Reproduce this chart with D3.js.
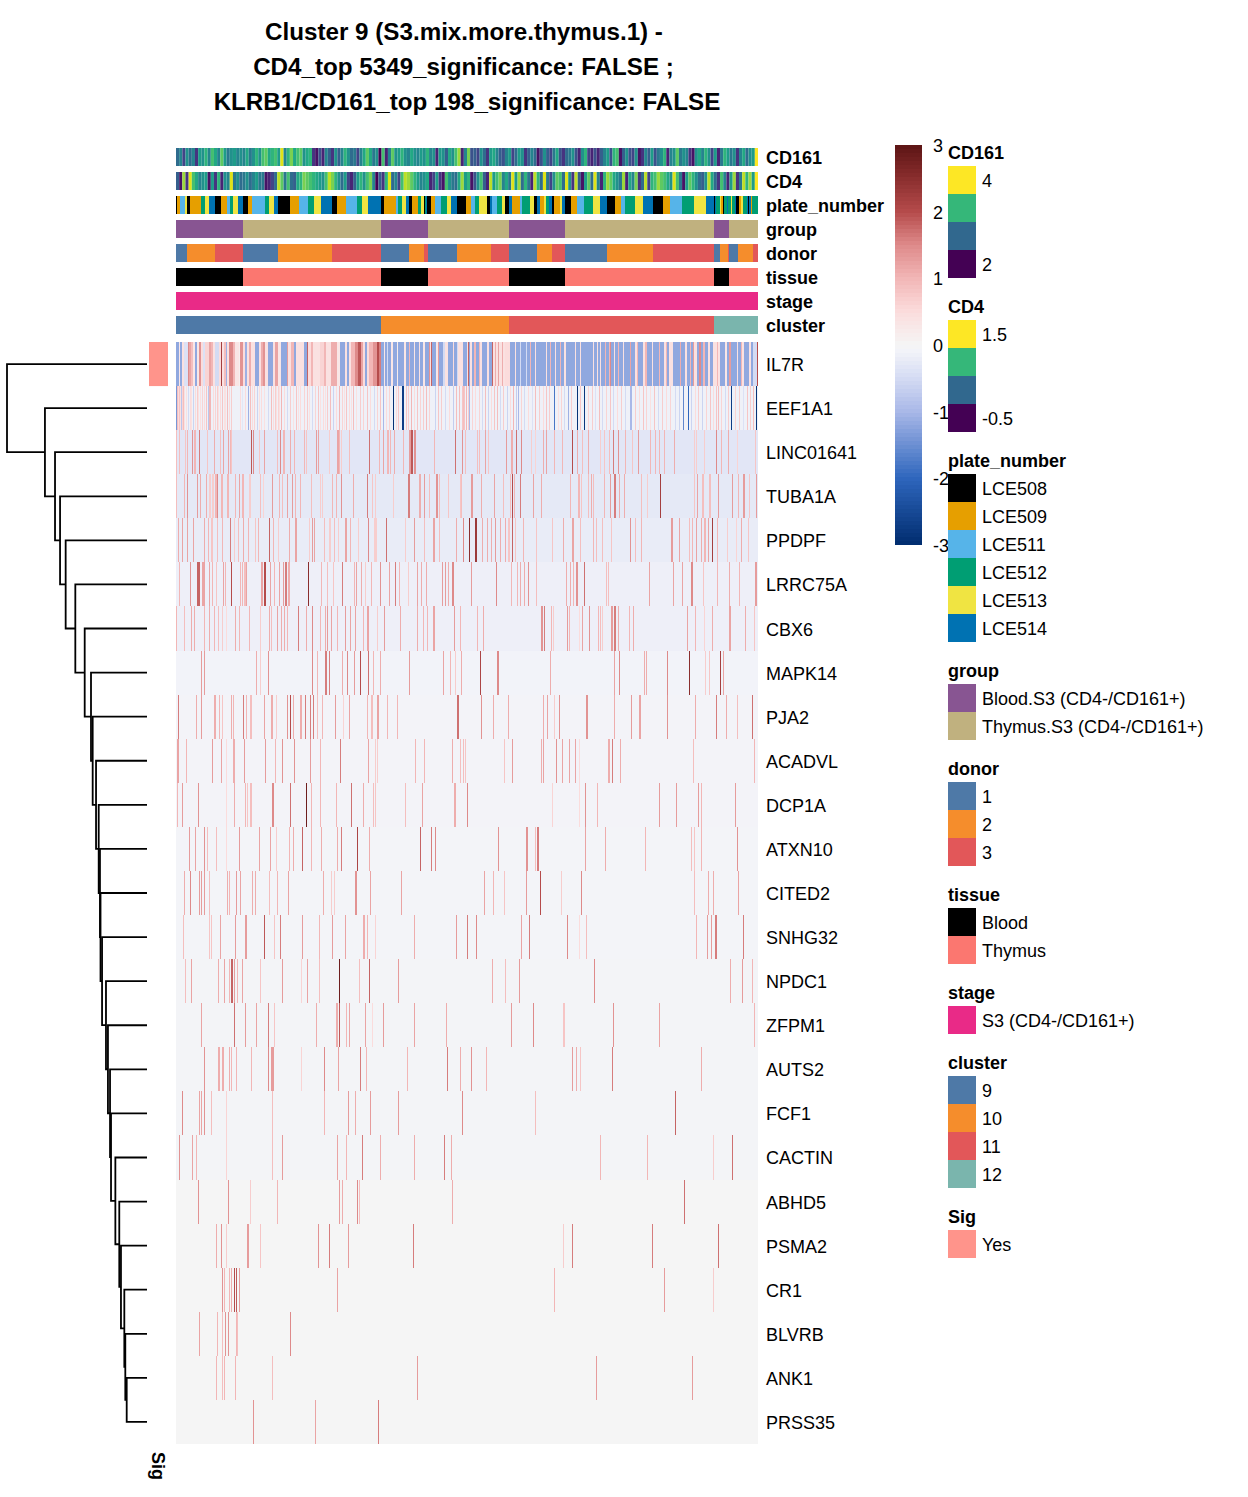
<!DOCTYPE html>
<html>
<head>
<meta charset="utf-8">
<script src="https://cdnjs.cloudflare.com/ajax/libs/d3/7.8.5/d3.min.js"></script>
<style>
body { margin: 0; background: #fff; }
text { font-family: "Liberation Sans", Arial, sans-serif; fill: #000; }
</style>
</head>
<body>
<svg id="chart" width="1248" height="1497"></svg>
<script>
// ---- data ----
var titleLines = ["Cluster 9 (S3.mix.more.thymus.1) -", "CD4_top 5349_significance: FALSE ;", "KLRB1/CD161_top 198_significance: FALSE"];
var genes = ["IL7R","EEF1A1","LINC01641","TUBA1A","PPDPF","LRRC75A","CBX6","MAPK14","PJA2","ACADVL","DCP1A","ATXN10","CITED2","SNHG32","NPDC1","ZFPM1","AUTS2","FCF1","CACTIN","ABHD5","PSMA2","CR1","BLVRB","ANK1","PRSS35"];
var nCols = 582;
// background z value of every row (cells with no expression)
var rowBase = [-1.2,-0.14,-0.32,-0.27,-0.22,-0.16,-0.16,-0.1,-0.08,-0.08,-0.08,-0.07,-0.07,-0.07,-0.06,-0.06,-0.06,-0.06,-0.06,0,0,0,0,0,0];
// dendrogram merge heights, top node first
var mergeHeights = [100,72.9,65.7,62.1,58.1,51.2,44.5,40,38.8,36.4,34.5,33.6,33.2,32.1,29.3,27.9,26.4,25.7,22.6,19.8,18.6,16.2,15.5,14.5];

// annotation tracks
var trackNames = ["CD161","CD4","plate_number","group","donor","tissue","stage","cluster"];
var cd161 = [2.7,2.9,2.4,3.0,2.7,2.9,2.3,3.1,3.0,3.3,2.9,3.4,3.2,2.9,3.5,3.1,2.8,3.0,3.1,2.9,
3.0,2.9,3.2,2.8,3.0,3.3,3.0,3.4,3.5,3.2,3.3,3.4,3.1,3.9,2.9,3.3,3.6,3.2,3.4,3.5,
3.0,3.2,3.3,2.3,2.1,2.5,2.2,2.9,2.6,2.3,3.0,2.6,2.9,3.3,3.0,2.7,2.8,2.4,2.9,3.2,
3.5,3.2,2.8,3.0,2.0,3.4,2.2,2.9,3.5,3.0,3.1,3.3,3.0,2.9,3.2,3.0,2.9,3.1,3.0,3.3,
2.9,3.0,2.2,3.1,3.0,2.6,3.2,3.0,3.4,3.7,2.2,2.9,3.6,2.5,2.6,2.4,3.0,2.7,2.3,3.1,
3.2,2.9,2.6,2.5,2.9,3.1,2.4,2.7,3.1,3.0,2.3,2.6,2.9,2.7,2.1,2.5,3.0,2.6,2.4,2.8,
3.2,2.5,2.3,2.7,2.8,3.0,2.5,2.2,3.0,3.3,2.4,2.2,2.5,2.2,2.6,2.9,3.1,2.5,3.3,3.4,
2.1,2.6,3.0,2.5,2.4,3.0,2.1,2.3,2.9,2.6,3.1,2.5,2.8,3.0,3.3,2.2,2.9,3.0,3.5,2.8,
3.0,2.9,2.3,2.1,3.0,3.2,2.9,3.3,3.0,2.4,3.1,2.2,2.8,3.3,3.1,2.8,3.0,2.3,2.9,3.2,
2.7,3.0,3.1,4.0];
var cd4 = [0.1,-0.4,1.2,-0.2,1.4,0.9,0.7,0.4,0.5,0.6,-0.4,0.6,-0.2,0.8,-0.3,0.5,0.4,1.4,0.3,0.5,
0.2,0.3,0.5,0.2,0.4,0.6,0.3,0.3,-0.4,-0.3,-0.1,0.2,1.3,1.0,0.3,0.9,0.2,0.1,0.7,0.8,
1.1,1.0,0.9,0.8,0.7,0.6,0.5,0.9,1.3,1.1,0.8,0.5,0.2,0.6,-0.1,-0.3,0.1,0.6,0.8,0.5,
0.9,1.1,0.4,-0.5,0.1,-0.2,0.8,1.4,0.2,0.4,-0.1,0.9,1.3,1.2,1.0,0.8,0.6,0.4,0.5,0.7,
-0.3,-0.1,0.6,-0.2,-0.4,0.9,0.5,0.3,0.2,0.7,1.2,0.6,0.8,-0.4,0.0,0.5,0.9,0.1,-0.3,1.3,
0.6,0.9,1.1,0.4,0.7,0.3,1.4,0.6,1.2,0.2,0.8,0.3,-0.3,1.3,0.8,0.2,1.4,0.3,-0.1,0.5,
1.0,0.9,0.2,1.4,0.5,-0.2,1.3,0.1,-0.4,0.6,1.0,0.2,1.4,0.4,-0.3,0.8,1.2,1.0,0.7,0.5,
0.3,1.2,-0.3,0.7,0.4,1.1,-0.2,0.2,1.3,-0.1,0.8,0.9,1.2,1.0,0.9,0.7,0.5,1.4,0.9,0.3,
-0.4,0.6,1.0,0.8,0.5,0.2,0.1,0.5,1.3,0.7,0.2,-0.2,0.9,0.4,-0.3,0.6,1.2,-0.2,0.3,1.3,
0.8,1.2,0.6,1.5];
var plateCodes = [0,1,2,4,0,1,3,4,5,0,1,2,3,4,5,0,1,2,3,4,5,0,1,2,3,4,5,0,1,2,3,4,5,
0,1,2,3,4,5,0,1,3,4,0,3,5,0,
0,1,2,3,4,5,0,
1,2,3,4,0,5,2,3,4,0,5,1,2,3,4,0,5,1,4,3,5,0,1,4,5,0,1,2,3,4,5,0,1,2,3,4,5,0,1,2,3,4,5,
0,5,3,4,1,0,3,5,3,4,3,5,0,1,4,3,5,0,5,1,3];
var plateRuns = [1,3,5,2,3,11,4,4,6,6,6,3,3,5,5,5,4,13,4,5,4,12,9,9,6,7,11,5,9,11,5,6,13,
3,12,2,4,4,3,3,6,3,3,1,1,1,1,
3,4,6,6,4,6,9,
5,4,4,8,3,2,5,5,3,4,3,8,2,8,4,3,3,4,2,3,3,2,6,2,3,6,6,7,9,7,7,8,6,4,10,8,10,10,7,12,12,12,8,
1,1,4,1,2,1,3,1,3,1,3,1,3,2,2,4,1,1,2,1,6];
var plateNames = ["LCE508","LCE509","LCE511","LCE512","LCE513","LCE514"];
var plateColors = ["#000000","#E69F00","#56B4E9","#009E73","#F0E442","#0072B2"];
var groupNames = ["Blood.S3 (CD4-/CD161+)","Thymus.S3 (CD4-/CD161+)"];
var groupColors = ["#885592","#C0B17F"];
var groupCodes = [0,1,0,1,0,1,0,1];
var groupRuns = [67,138,47,81,56,149,15,29];
var donorNames = ["1","2","3"];
var donorColors = ["#4E79A7","#F58D2C","#E25759"];
var donorCodes = [0,1,2,0,1,2,0,1,2,0,1,2,0,1,2,0,1,2,0,1,2,0,1,2];
var donorRuns = [11,28,28,35,54,49,28,15,4,29,34,18,28,15,13,42,46,61,6,8,1,9,15,5];
var tissueNames = ["Blood","Thymus"];
var tissueColors = ["#000000","#FB7770"];
var stageNames = ["S3 (CD4-/CD161+)"];
var stageColors = ["#E92A87"];
var clusterNames = ["9","10","11","12"];
var clusterColors = ["#4E79A7","#F58D2C","#E25759","#7AB5AD"];
var clusterCodes = [0,1,2,3];
var clusterRuns = [205,128,205,44];
var viridis4 = ["#FDE725","#35B779","#31688E","#440154"];

// IL7R steps: [first column, z], each holds until the next one
var IL7R = [[0,-1.2],[3,.3],[4,-1.2],[6,.4],[8,-.4],[12,1.5],[13,1.2],[15,.9],[17,.3],[19,-1.2],[21,.3],[23,1.4],[25,.5],[27,-.4],[29,.6],[33,1.2],[35,1],[37,.4],[39,-.5],[43,.5],[45,2.2],[46,.4],[48,.9],[50,-1.1],[51,.4],[53,1.5],[57,1],[59,.3],[63,.1],[64,1.4],[67,.5],[69,-1.1],[71,.4],[73,1.1],[75,.4],[79,-1.2],[83,.4],[85,1.1],[87,1.4],[89,.4],[92,-1.2],[97,.4],[99,1.2],[102,.3],[105,-1.2],[111,1.3],[112,.4],[115,1],[118,-1.2],[120,.4],[128,-1.2],[131,1.8],[132,.5],[135,1],[137,.4],[144,.6],[148,1],[150,.4],[155,1.1],[161,.3],[164,-1.2],[169,.4],[171,-1.2],[173,.4],[175,1],[179,1.5],[182,1.9],[185,1.2],[187,.5],[189,-1.2],[191,.5],[193,1],[197,1.4],[201,2],[203,1.6],
[205,-1.2],[208,.3],[209,-1.2],[211,-.5],[212,-1.2],[215,.3],[217,-1.2],[221,.2],[222,-1.2],[228,.3],[230,-1.2],[233,1],[234,-1.2],[238,.3],[239,-1.2],[243,.4],[244,-1.2],[247,.3],[249,-1.2],[253,1.4],[254,.4],[255,1.8],[256,-1.2],[260,.3],[262,1.3],[263,-1.2],[267,-.5],[269,.4],[272,-1.2],[277,.5],[278,-1.2],[281,-.5],[282,.4],[287,-1.2],[291,.4],[292,1.8],[293,-1.2],
[294,.4],[296,-1.2],[298,1],[300,-1.2],[303,1],[304,.4],[306,-1.2],[311,.4],[313,-1.2],[316,1.8],[317,.4],[319,1.1],[320,.4],[322,1.2],[323,.4],[326,1.1],[327,.4],[329,.5],[334,-1.2],[339,.4],[340,-1.2],[344,-.5],[345,-1.2],[350,-.5],[351,-1.2],[354,1],[355,-1.2],[359,.4],[360,-1.2],[370,.4],[371,-1.2],[374,1],[375,-1.2],[379,.4],[380,-1.2],[384,1],[385,-1.2],[388,.4],[390,-1.2],[399,.4],[400,-1.2],[404,.4],[405,-1.2],[417,.4],[418,-1.2],[421,.4],[422,-1.2],[424,.4],[425,-1.2],[429,1],[430,-1.2],[433,1],[434,1.5],[435,-1.2],[438,.4],[439,-1.2],[442,1],[443,-1.2],[447,.4],[448,-1.2],[454,1.2],[455,-1.2],[459,.4],[461,1],[462,-1.2],[467,.4],[469,1],[471,-1.2],[476,.4],[477,-1.2],[483,1],[484,-1.2],[488,.4],[490,1],[491,-1.2],[493,.4],[497,-1.2],[504,1.1],[505,-1.2],[509,.4],[511,-1.2],[514,1],[515,-1.2],[517,1.3],[518,.4],[521,-1.2],[523,1.5],[525,-1.2],[527,1],[529,-1.2],[532,.4],[534,-1.2],[537,.4],[541,1],[542,.4],[544,-1.2],[549,.3],[551,-1.2],[553,1.3],[555,-1.2],[561,.4],[562,-1.2],[565,1],[566,.4],[568,-1.2],[573,.4],[575,-1.2],[577,-.5],[581,2]];
// other rows: [column, z] for the cells that stand out of the row background
var EEF1A1 = [[0,-1.4],[1,0.9],[2,0.5],[3,0.8],[4,0.4],[5,-0.8],[6,0.6],[7,0.9],[8,0.4],[10,0.4],[12,-0.5],[14,0.5],[15,0.4],[17,-0.6],[19,0.5],[21,0.7],[22,0.4],[24,0.4],[26,0.6],[28,0.5],[30,0.8],[32,-0.8],[33,1.0],[34,1.0],[37,0.5],[39,0.6],[41,0.7],[42,0.4],[44,0.5],[46,0.8],[48,0.4],[49,0.4],[51,0.9],[53,0.5],[55,0.7],[64,0.5],[66,-0.3],[69,0.5],[72,-1.1],[74,0.9],[76,0.5],[78,0.6],[81,-0.6],[83,0.4],[85,0.5],[88,0.4],[92,-0.5],[95,0.9],[97,0.5],[99,0.7],[100,0.4],[102,0.6],[103,0.4],[105,1.0],[108,0.5],[111,-0.5],[114,0.7],[117,0.4],[120,0.8],[122,0.4],[124,0.5],[128,0.6],[131,0.7],[133,0.4],[136,-0.5],[139,0.6],[142,0.8],[144,0.4],[147,0.5],[149,0.4],[151,0.7],[154,0.9],[157,-0.6],[160,0.5],[163,1.0],[166,0.6],[168,0.4],[170,0.8],[173,0.5],[175,0.4],[177,0.9],[180,0.4],[184,0.7],[187,0.6],[191,0.8],[194,0.5],[198,-0.5],[201,0.6],[204,0.8],[207,-1.0],[210,0.5],[213,0.6],[217,-2.9],[220,0.5],[222,0.8],[226,-2.7],[227,-2.7],[230,0.8],[232,0.7],[235,1.0],[238,0.5],[241,0.8],[244,0.6],[247,0.7],[250,0.9],[253,0.6],[259,-0.6],[262,0.8],[265,0.7],[269,-0.5],[273,0.5],[277,-0.7],[280,0.9],[283,0.9],[286,0.8],[287,0.9],[288,0.8],[290,1.0],[292,0.7],[293,-1.0],[296,0.6],[299,0.5],[303,0.6],[306,-0.5],[309,0.9],[312,-0.6],[315,0.5],[318,0.8],[321,0.9],[324,-0.5],[327,0.7],[331,-0.6],[334,0.5],[337,1.0],[340,-0.7],[342,-1.0],[345,0.6],[348,-0.5],[352,0.5],[356,-0.4],[359,0.9],[363,0.7],[367,0.5],[370,0.8],[373,0.7],[378,-1.8],[382,0.4],[385,0.6],[388,-0.5],[392,-1.1],[395,0.7],[401,-2.9],[404,0.8],[408,-2.8],[412,0.6],[416,0.7],[419,-0.4],[423,0.9],[426,-0.5],[430,0.6],[434,0.8],[437,-0.5],[441,0.5],[445,0.7],[449,-0.5],[454,-1.0],[455,-1.0],[459,0.7],[463,0.5],[467,0.8],[470,0.6],[474,0.4],[478,0.8],[482,-0.5],[486,0.7],[490,0.5],[494,0.6],[499,-0.5],[503,-0.6],[507,-1.6],[512,-2.0],[515,-0.6],[519,0.5],[522,0.7],[526,-0.6],[530,0.6],[534,0.8],[537,0.5],[540,0.8],[542,0.9],[545,0.6],[549,-0.5],[552,0.7],[555,-2.7],[559,0.6],[563,0.7],[567,-0.4],[571,0.8],[574,0.7],[577,0.9],[580,-2.9]];
var LINC01641 = [[0,.9],[3,.9],[9,.8],[11,1],[16,1.4],[18,1],[19,1],[23,1.6],[31,.8],[38,1.1],[44,.9],[47,1.2],[52,1.2],[54,1],[55,.8],[75,1.9],[77,1.5],[83,.8],[88,1.2],[101,.9],[104,1.5],[107,1],[108,1],[114,1.1],[118,1],[128,1],[130,.8],[140,1.3],[142,1.2],[153,.7],[161,1.2],[162,1.2],[163,1],[165,.7],[173,.9],[193,1.7],[203,1],[207,1.2],[211,1],[212,1],[214,1],[218,1.1],[227,1],[233,1.3],[234,1.3],[235,1.9],[236,1.9],[238,1.4],[239,1.4],[258,1],[279,1.7],[286,1.4],[289,.9],[301,.9],[303,.9],[309,1.2],[312,.8],[330,1.3],[335,1.1],[336,1.1],[340,1.7],[345,1.5],[355,.7],[359,.6],[367,1.1],[370,1.2],[378,1],[386,1],[396,2],[401,1.1],[406,.9],[412,1.1],[424,.7],[428,.8],[433,.9],[437,1.6],[442,1.4],[449,1],[456,.8],[462,1.3],[474,1],[479,1],[483,1],[488,1],[498,1.1],[518,.7],[520,.7],[528,.7],[540,1.5],[545,1],[552,1.1],[561,.6],[579,.8]];
var TUBA1A = [[0,.9],[8,1],[11,1.4],[21,1.3],[24,1.1],[30,1.1],[33,.7],[34,.7],[36,.7],[37,.7],[39,1],[40,1],[41,1.5],[45,1],[46,1],[51,1],[52,1],[59,1],[63,1.2],[66,1],[67,1],[73,.7],[74,.7],[84,.9],[87,.6],[96,1.3],[103,1],[106,.9],[111,1.2],[116,1.3],[119,1],[124,1],[135,.9],[144,.7],[146,.7],[156,1],[160,1],[165,1.4],[177,1.1],[191,1.6],[196,.8],[199,.7],[217,.7],[232,1.6],[233,1.6],[243,1.1],[244,1.1],[248,1.3],[253,.9],[260,1.4],[261,1.4],[263,.9],[272,.8],[284,.8],[285,.9],[295,1.3],[296,1.3],[305,1.1],[318,1.2],[327,.9],[334,.9],[336,2],[338,1],[344,1.6],[357,1.2],[365,1.1],[394,1],[402,1],[403,1],[405,.8],[412,.9],[415,1.1],[417,.9],[428,1],[434,1.3],[438,1.6],[439,1.6],[443,1.1],[448,1.1],[465,.9],[471,.7],[484,2.2],[518,.8],[521,1.2],[526,.9],[527,.9],[533,.9],[534,.9],[542,1.3],[556,1.3],[562,1],[567,1.3],[568,1.3],[573,.8],[580,1.3]];
var PPDPF = [[2,1.1],[6,1.2],[11,1.2],[17,1.2],[28,1.1],[32,1],[35,.8],[36,.8],[41,.9],[46,1],[54,1.6],[58,.7],[62,.9],[67,1.1],[72,1],[79,.8],[82,1],[93,1.8],[97,1],[102,.7],[113,1.1],[119,1.2],[120,1.2],[133,.7],[136,1.3],[138,1.2],[148,.9],[153,.7],[154,.7],[158,.9],[162,.7],[169,1.2],[170,1.2],[174,1],[182,.7],[192,1.5],[198,.7],[199,.7],[200,.7],[210,1.7],[229,.7],[238,1.3],[248,.9],[257,1.2],[258,1.2],[263,.9],[280,1.1],[287,1.5],[293,2.5],[299,2.3],[300,2.3],[306,1.1],[311,1.1],[315,1.1],[319,1.3],[324,1.1],[329,1.1],[332,.8],[333,.8],[336,1.8],[339,.8],[347,1],[360,.8],[376,.8],[387,1.1],[396,1.2],[397,1.2],[404,.9],[417,1],[420,.9],[426,.9],[435,.8],[454,1.4],[459,.9],[465,1],[495,1.3],[496,1.3],[503,1.2],[513,.9],[516,1],[520,1.2],[525,1.1],[528,1],[529,1],[532,1.2],[536,2.2],[541,1],[551,.7],[560,.6],[565,1.1],[572,.8]];
var LRRC75A = [[3,1],[14,1.4],[21,1.8],[22,1.8],[23,1.8],[26,1.2],[27,1.2],[28,1.2],[33,1.2],[36,1],[40,.8],[47,1.2],[49,1],[55,2],[64,1],[66,1],[68,.9],[69,.9],[70,1.2],[85,1.2],[86,1.2],[88,2],[89,2],[94,1.2],[98,1],[103,1.2],[107,1.3],[109,1.6],[110,1.6],[112,1.1],[113,1.1],[132,2.5],[145,1],[151,.9],[157,.8],[166,1.6],[178,1],[180,1.2],[185,1.1],[189,.7],[195,1],[204,1.4],[213,1.2],[219,1.6],[223,1],[232,.7],[241,1.2],[245,1.1],[250,1.1],[266,1.3],[269,1.3],[272,1.1],[276,1.5],[277,1.5],[295,1.3],[320,1.5],[335,1],[341,1],[344,1.1],[348,1.1],[352,1.4],[360,.9],[390,1.1],[394,1.1],[397,1],[400,1.4],[401,1.4],[408,1.7],[430,.9],[432,.9],[473,1.2],[497,1.2],[506,1.2],[515,1.5],[516,1.5],[527,.8],[541,1],[553,1.1],[563,1],[579,1.3],[580,1.3]];
var CBX6 = [[0,1],[8,.9],[15,1.1],[18,1.1],[28,1],[33,1.1],[38,1],[42,.9],[46,.7],[50,.5],[59,1.1],[63,1],[73,1],[84,.7],[93,1.1],[95,.9],[101,1.2],[105,1.1],[108,1.1],[111,1],[122,1.6],[130,1.1],[136,1.5],[144,1],[149,1.1],[151,1.3],[155,1.2],[161,1],[169,1.3],[174,1.2],[179,1.2],[187,1],[191,1.2],[192,1.2],[201,.7],[208,1.3],[224,1.1],[241,1.1],[247,1],[251,1],[257,1.2],[258,1.2],[278,1.3],[284,1],[301,1],[307,1.1],[365,1.4],[366,1.4],[368,1.6],[375,1],[377,.7],[391,1.3],[393,1],[403,.5],[406,1.2],[413,1.4],[422,1],[424,.9],[426,.7],[435,1.3],[436,1.3],[438,1.6],[439,1.6],[442,1.1],[453,1],[457,1.1],[511,1.2],[519,1],[528,.6],[536,1.1],[553,1.2],[554,1.2],[569,1.1],[578,.8]];
var MAPK14 = [[25,1.3],[28,1.3],[80,1.1],[84,.7],[92,1.4],[136,1.5],[141,1],[149,1.6],[150,1.6],[153,1.6],[166,1.1],[171,1.5],[178,1.3],[184,2],[192,1.7],[197,1],[204,1.1],[233,1.3],[267,1.2],[274,1],[279,.7],[285,1.1],[304,2.1],[321,1.5],[322,1.5],[374,1.1],[438,1.2],[443,1.5],[468,1.1],[470,1.1],[491,1.5],[513,2.5],[529,.7],[533,.8],[544,2.2],[547,1.2]];
var PJA2 = [[2,1.6],[20,1.1],[25,1.3],[38,1.1],[39,1.1],[43,1],[46,.8],[55,1.1],[57,1],[67,1.6],[70,1],[74,.9],[75,.9],[88,1.2],[95,1.1],[96,1.1],[100,.7],[111,1.4],[114,2],[117,1.1],[124,1.1],[125,1.1],[129,1.6],[134,1.6],[137,1.6],[141,.9],[146,1],[159,1.3],[167,.6],[173,1.2],[191,1],[195,.9],[196,.9],[201,1.2],[202,1.2],[211,1],[221,1],[281,1.7],[282,1.7],[305,1.4],[317,1.1],[332,1.1],[367,1.1],[371,1.2],[378,.7],[383,1.4],[410,1.4],[411,1.4],[438,1.1],[455,1.3],[463,1.2],[464,1.2],[491,1.4],[519,1.1],[540,1.6],[550,1.1],[561,.9],[576,1.7]];
var ACADVL = [[1,1.2],[2,1.2],[10,1],[36,1.3],[45,1.2],[50,.5],[57,1.1],[58,1.1],[68,1.3],[89,1.3],[99,1],[106,1.4],[118,1.4],[134,1.3],[144,1],[164,1.6],[192,1.2],[199,.7],[201,.7],[239,1],[248,1],[276,1.1],[284,.9],[287,.9],[289,.8],[328,.8],[336,1.3],[365,1.1],[367,1.2],[380,1.4],[386,1.2],[393,1.2],[399,1.2],[403,.5],[432,1.1],[433,1.1],[436,1.6],[444,1.1],[517,.9],[578,1]];
var DCP1A = [[1,1],[6,1.3],[22,1.4],[50,.5],[58,1.1],[69,1],[71,.8],[74,.9],[75,.9],[96,1.5],[97,1.5],[114,1.7],[130,2.8],[135,1],[144,1],[160,1],[175,1.7],[187,1.1],[197,.9],[199,.8],[229,.9],[246,1.2],[278,1.1],[279,1.1],[291,1.5],[376,.6],[403,.5],[409,1.4],[421,1],[483,1.3],[500,1.3],[522,1.3],[525,1],[559,1.3]];
var ATXN10 = [[13,1.3],[19,1.2],[28,1.4],[31,.9],[40,.9],[50,.5],[63,1.3],[83,1.2],[94,1.2],[100,.7],[113,1],[117,1.1],[126,1.8],[135,1],[145,1.1],[161,1.1],[165,1.6],[181,2.1],[193,1.1],[244,1.8],[255,1.6],[259,1.5],[322,1.4],[350,1.4],[351,1.4],[359,.9],[361,1.6],[362,1.6],[409,1.2],[429,1.1],[469,1],[515,.9],[518,.8],[525,1],[561,1.4]];
var CITED2 = [[8,1.1],[14,1.5],[23,1.3],[25,1.3],[28,1.3],[33,.9],[51,1.1],[53,1],[60,1.3],[64,1.2],[76,1.1],[79,1.1],[93,.9],[101,1],[112,1.2],[147,1.1],[155,.7],[158,.7],[179,1.4],[180,1.4],[194,1.2],[225,1.2],[308,1.2],[317,1],[328,.8],[350,1.3],[364,2],[385,.7],[405,1.5],[518,.9],[532,1.1],[537,1.1],[562,1.2]];
var SNHG32 = [[7,.9],[33,.8],[35,.8],[44,1.2],[59,1.3],[69,1.3],[70,1.3],[88,1.9],[98,.8],[104,1.6],[126,1.3],[143,1],[156,1.3],[169,1.2],[187,1.1],[188,1.1],[191,1],[199,.6],[238,1.1],[280,1.3],[291,1.6],[300,1.5],[345,1.2],[353,1.6],[391,1.5],[403,.5],[410,.9],[520,1],[531,1.3],[535,1.3],[539,1.6],[540,1.6],[567,1.6]];
var NPDC1 = [[9,.9],[15,1.2],[42,1.1],[48,1.2],[53,1],[55,1.8],[56,1.8],[58,1.3],[61,1],[66,1.2],[84,.8],[106,1.3],[125,.6],[131,1.2],[143,.9],[163,2.8],[183,.9],[193,1.8],[222,1.3],[316,1.1],[329,.9],[343,1.3],[418,1.5],[554,1.1],[566,1.3],[576,1]];
var ZFPM1 = [[25,1.2],[58,1.7],[69,1.3],[80,1.2],[92,1.6],[98,.8],[140,1.1],[160,1.1],[161,1.1],[163,1.9],[170,1],[173,1.2],[189,1.2],[196,.5],[207,1.3],[238,1.2],[270,1.1],[335,1.3],[357,1.5],[387,.8],[388,.8],[437,1.4],[483,1.2],[578,1]];
var AUTS2 = [[28,1.4],[42,1.1],[43,1.1],[46,1.1],[47,1.1],[53,1.1],[55,1],[60,1],[75,1],[92,1.5],[95,1.3],[96,1.3],[97,1.3],[125,.6],[148,1.5],[162,1.2],[184,1.6],[190,1],[231,1],[271,1.6],[284,1.1],[295,1.4],[310,1],[396,1.3],[400,1.1],[404,.8],[436,1.6],[525,1.1]];
var FCF1 = [[6,1.5],[23,1.2],[25,1.2],[28,1.4],[35,.9],[50,.6],[96,.9],[148,1],[172,1.3],[179,1.1],[194,1.3],[222,1.3],[286,1.5],[359,.9],[499,1.8]];
var CACTIN = [[3,1.4],[16,1.2],[20,1],[50,.6],[96,.9],[106,1.3],[161,1.2],[170,1],[186,1.6],[204,1.1],[238,1.1],[268,1.6],[275,1.1],[424,1],[471,1],[537,.7],[556,1.7]];
var ABHD5 = [[22,1.4],[52,1.4],[74,.7],[101,1],[163,1.3],[166,1.1],[181,1.5],[183,.9],[276,1.1],[508,1.7]];
var PSMA2 = [[40,1.1],[45,1.4],[50,.7],[71,1.3],[72,1.3],[84,.8],[142,1.4],[153,1.6],[172,1.3],[237,1.6],[387,.7],[396,1.6],[476,1.6],[542,1.7]];
var CR1 = [[46,1.4],[48,1],[53,1],[55,1.1],[58,2],[60,1.9],[63,1.3],[161,1.2],[378,1],[488,1.3],[537,.7]];
var BLVRB = [[23,1.2],[41,1],[46,.9],[49,1.4],[52,1.4],[60,1],[61,.9],[114,1.5]];
var ANK1 = [[40,1],[46,.9],[48,1],[59,1],[96,.9],[241,1.3],[420,1.3],[516,1.3]];
var PRSS35 = [[77,1.4],[139,1.2],[202,1.6]];
var rowStripes = [null,EEF1A1,LINC01641,TUBA1A,PPDPF,LRRC75A,CBX6,MAPK14,PJA2,ACADVL,DCP1A,ATXN10,CITED2,SNHG32,NPDC1,ZFPM1,AUTS2,FCF1,CACTIN,ABHD5,PSMA2,CR1,BLVRB,ANK1,PRSS35];

// ---- scales ----
var svg = d3.select("#chart");
var heat = d3.scaleLinear()
    .domain([-3,-2,-1,-0.5,-0.1,0,0.5,1,1.5,2,2.5,3])
    .range(["#002c6e","#2e66bd","#a9b8e8","#d4dbf3","#f2f3f9","#f5f5f5","#fbdcdc","#f2b6b6","#de8a8a","#b54b4b","#8a2e2e","#5c1414"]);
var viridis = d3.scaleSequential(d3.interpolateViridis);
var xCol = d3.scaleBand().domain(d3.range(nCols)).range([176,758]);
var yRow = d3.scaleBand().domain(genes).range([342,1444]);
var yTrack = d3.scaleBand().domain(trackNames).range([148,334]).paddingInner(0.25);
var xDend = d3.scaleLinear().domain([0,100]).range([147,7]);
var xCell = d3.scaleBand().domain(d3.range(cd161.length)).range([176,758]);

// Title
svg.append("g").selectAll("text").data(titleLines).enter().append("text")
    .attr("x", function (d, i) { return [464,463.5,467][i]; })
    .attr("y", function (d, i) { return [40,75,110][i]; })
    .attr("text-anchor", "middle")
    .style("font-weight", "bold")
    .style("font-size", "24.2px")
    .text(function (d) { return d; });

// Annotation tracks
function drawRuns(name, codes, runs, colors) {
    var at = 0;
    codes.forEach(function (c, i) {
        svg.append("rect")
            .attr("x", xCol(at))
            .attr("y", yTrack(name))
            .attr("width", xCol.step() * runs[i])
            .attr("height", yTrack.bandwidth())
            .attr("fill", colors[c]);
        at += runs[i];
    });
}
function drawCells(name, values, lo, hi) {
    viridis.domain([lo, hi]);
    svg.append("g").selectAll("rect").data(values).enter().append("rect")
        .attr("x", function (d, i) { return xCell(i); })
        .attr("y", yTrack(name))
        .attr("width", xCell.bandwidth())
        .attr("height", yTrack.bandwidth())
        .attr("fill", function (d) { return viridis(d); });
}
drawCells("CD161", cd161, 2, 4);
drawCells("CD4", cd4, -0.5, 1.5);
drawRuns("plate_number", plateCodes, plateRuns, plateColors);
drawRuns("group", groupCodes, groupRuns, groupColors);
drawRuns("donor", donorCodes, donorRuns, donorColors);
drawRuns("tissue", groupCodes, groupRuns, tissueColors);
drawRuns("stage", [0], [nCols], stageColors);
drawRuns("cluster", clusterCodes, clusterRuns, clusterColors);

svg.append("g").selectAll("text").data(trackNames).enter().append("text")
    .attr("x", 766)
    .attr("y", function (d) { return yTrack(d) + 16; })
    .style("font-weight", "bold")
    .style("font-size", "18px")
    .text(function (d) { return d; });

// Heatmap
var heatG = svg.append("g").attr("shape-rendering", "crispEdges");
genes.forEach(function (gene, r) {
    heatG.append("rect")
        .attr("x", xCol(0))
        .attr("y", yRow(gene))
        .attr("width", xCol.step() * nCols)
        .attr("height", yRow.step())
        .attr("fill", heat(rowBase[r]));
    var cells = rowStripes[r];
    var widths = null;
    if (!cells) {
        // IL7R is stored as steps
        cells = IL7R;
        widths = function (d, i) { return ((i + 1 < IL7R.length ? IL7R[i + 1][0] : nCols) - d[0]) * xCol.step(); };
    }
    heatG.selectAll(null).data(cells).enter().append("rect")
        .attr("x", function (d) { return xCol(d[0]); })
        .attr("y", yRow(gene))
        .attr("width", widths || xCol.step())
        .attr("height", yRow.step())
        .attr("fill", function (d) { return heat(d[1]); });
});

svg.append("g").selectAll("text").data(genes).enter().append("text")
    .attr("x", 766)
    .attr("y", function (d) { return yRow(d) + yRow.step() / 2 + 7; })
    .style("font-size", "18px")
    .text(function (d) { return d; });

// Sig annotation
svg.append("rect")
    .attr("x", 149)
    .attr("y", yRow("IL7R"))
    .attr("width", 19)
    .attr("height", yRow.step())
    .attr("fill", "#FF948B");
svg.append("text")
    .attr("transform", "translate(152,1452)rotate(90)")
    .style("font-weight", "bold")
    .style("font-size", "18px")
    .text("Sig");

// Dendrogram: a chain, each node joins one leaf and the next node
var dendG = svg.append("g").attr("fill", "none").attr("stroke", "#000").attr("stroke-width", 1.8);
function rowMid(i) { return yRow(genes[i]) + yRow.step() / 2; }
function drawNode(i) {
    // returns the y where this node hangs from its parent
    var h = xDend(mergeHeights[i]);
    var lower, lowerX;
    if (i === mergeHeights.length - 1) {
        lower = rowMid(i + 1);
        lowerX = xDend(0);
    } else {
        lower = drawNode(i + 1);
        lowerX = xDend(mergeHeights[i + 1]);
    }
    var upper = rowMid(i);
    dendG.append("path").attr("d", "M" + xDend(0) + "," + upper + "H" + h + "V" + lower + "H" + lowerX);
    return (upper + lower) / 2;
}
drawNode(0);

// Colour bar
var barY = d3.scaleLinear().domain([3,-3]).range([145,545]);
var barSteps = d3.range(100);
svg.append("g").attr("shape-rendering", "crispEdges").selectAll("rect").data(barSteps).enter().append("rect")
    .attr("x", 895)
    .attr("y", function (d) { return barY(3 - d * 0.06); })
    .attr("width", 27)
    .attr("height", 4.1)
    .attr("fill", function (d) { return heat(3 - (d + 0.5) * 0.06); });
svg.append("g").selectAll("text").data([3,2,1,0,-1,-2,-3]).enter().append("text")
    .attr("x", 933)
    .attr("y", function (d) { return barY(d) + 7; })
    .style("font-size", "18px")
    .text(function (d) { return d; });

// Legends
var legends = [
    { title: "CD161", top: 166, names: ["4","","","2"], colors: viridis4 },
    { title: "CD4", top: 320, names: ["1.5","","","-0.5"], colors: viridis4 },
    { title: "plate_number", top: 474, names: plateNames, colors: plateColors },
    { title: "group", top: 684, names: groupNames, colors: groupColors },
    { title: "donor", top: 782, names: donorNames, colors: donorColors },
    { title: "tissue", top: 908, names: tissueNames, colors: tissueColors },
    { title: "stage", top: 1006, names: stageNames, colors: stageColors },
    { title: "cluster", top: 1076, names: clusterNames, colors: clusterColors },
    { title: "Sig", top: 1230, names: ["Yes"], colors: ["#FF948B"] }
];
legends.forEach(function (lg) {
    var g = svg.append("g");
    g.append("text")
        .attr("x", 948)
        .attr("y", lg.top - 7)
        .style("font-weight", "bold")
        .style("font-size", "18px")
        .text(lg.title);
    lg.names.forEach(function (nm, i) {
        g.append("rect")
            .attr("x", 948)
            .attr("y", lg.top + i * 28)
            .attr("width", 28)
            .attr("height", 28)
            .attr("fill", lg.colors[i]);
        if (nm) {
            g.append("text")
                .attr("x", 982)
                .attr("y", lg.top + i * 28 + 21)
                .style("font-size", "18px")
                .text(nm);
        }
    });
});
</script>
</body>
</html>
